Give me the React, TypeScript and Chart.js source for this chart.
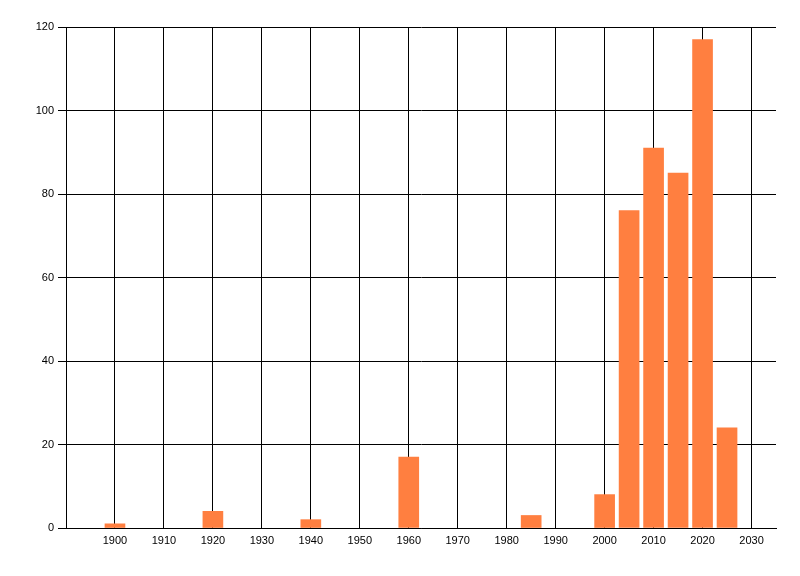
import { useEffect, useRef } from "react";
import { Chart, registerables } from "chart.js";

Chart.register(...registerables);

// bar positions (year) and heights
const years = [1900, 1920, 1940, 1960, 1985, 2000, 2005, 2010, 2015, 2020, 2025];
const counts = [1, 4, 2, 17, 3, 8, 76, 91, 85, 117, 24];
const xTicks = [1900, 1910, 1920, 1930, 1940, 1950, 1960, 1970, 1980, 1990, 2000, 2010, 2020, 2030];
const yTicks = [0, 20, 40, 60, 80, 100, 120];

const FONT = { family: "'Liberation Sans', Arial, sans-serif", size: 11 };

export default function App() {
  const canvasRef = useRef<HTMLCanvasElement>(null);

  useEffect(() => {
    document.body.style.margin = "0";
    if (!canvasRef.current) return;
    const chart = new Chart(canvasRef.current, {
      type: "bar",
      data: {
        datasets: [
          {
            data: years.map((y, i) => ({ x: y, y: counts[i] })),
            backgroundColor: "#FF7F40",
            borderWidth: 0,
            barThickness: 20,
          },
        ],
      },
      options: {
        animation: false,
        responsive: true,
        maintainAspectRatio: false,
        layout: { padding: { top: 27, right: 24, left: 0, bottom: 0 } },
        plugins: { legend: { display: false }, tooltip: { enabled: false } },
        scales: {
          x: {
            type: "linear",
            min: 1890,
            max: 2035,
            offset: false,
            afterBuildTicks: (scale: any) => {
              scale.ticks = xTicks.map((v) => ({ value: v }));
            },
            afterFit: (scale: any) => {
              scale.height = 48;
            },
            grid: { color: "#000", lineWidth: 1, drawTicks: false, offset: false },
            border: { color: "#000", width: 1 },
            ticks: {
              color: "#000",
              font: FONT,
              padding: 6,
              autoSkip: false,
              maxRotation: 0,
              callback: (v: any) => String(v),
            },
          },
          y: {
            min: 0,
            max: 120,
            afterBuildTicks: (scale: any) => {
              scale.ticks = yTicks.map((v) => ({ value: v }));
            },
            afterFit: (scale: any) => {
              scale.width = 66;
            },
            grid: { color: "#000", lineWidth: 1, drawTicks: true, tickLength: 8, tickColor: "#000" },
            border: { color: "#000", width: 1 },
            ticks: { color: "#000", font: FONT, padding: 4 },
          },
        },
      } as any,
    });
    return () => chart.destroy();
  }, []);

  return (
    <div style={{ width: 800, height: 576, position: "relative", background: "#fff" }}>
      <canvas ref={canvasRef} />
    </div>
  );
}
